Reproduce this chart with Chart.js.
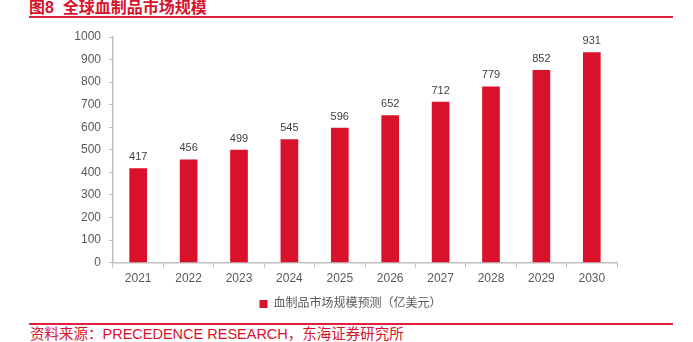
<!DOCTYPE html>
<html>
<head>
<meta charset="utf-8">
<script src="https://cdn.jsdelivr.net/npm/chart.js@4"></script>
<style>
  html, body { margin: 0; padding: 0; background: #fff; }
  body { width: 693px; height: 342px; position: relative; overflow: hidden;
         font-family: "Liberation Sans", "Noto Sans CJK SC", sans-serif; }
  .title { position: absolute; left: 29px; top: -6px; font-size: 16px; font-weight: bold; color: #d9112b; white-space: nowrap; }
  .rule { position: absolute; left: 29px; width: 644px; height: 2px; background: #e0223a; }
  .source { position: absolute; left: 30px; top: 327px; font-size: 14.5px; line-height: 1; color: #d9112b; white-space: nowrap; }
  .wrap { position: absolute; left: 0; top: 0; width: 693px; height: 322px; }
</style>
</head>
<body>
<div class="title">图8&nbsp;&nbsp;全球血制品市场规模</div>
<div class="rule" style="top:16px"></div>
<div class="wrap"><canvas id="chart"></canvas></div>
<div class="rule" style="top:323px"></div>
<div class="source">资料来源：PRECEDENCE RESEARCH，东海证券研究所</div>
<script>
// Data
const years = ['2021', '2022', '2023', '2024', '2025', '2026', '2027', '2028', '2029', '2030'];
const marketSize = [417, 456, 499, 545, 596, 652, 712, 779, 852, 931];
const seriesName = '血制品市场规模预测（亿美元）';

const barRed = '#d9112b';
const axisGray = '#bfbfbf';
const textGray = '#595959';
const fontFamily = "'Liberation Sans', 'Noto Sans CJK SC', sans-serif";

// value labels on top of each bar
const valueLabels = {
    id: 'valueLabels',
    afterDatasetsDraw(chart) {
        const ctx = chart.ctx;
        const meta = chart.getDatasetMeta(0);
        ctx.save();
        ctx.font = '11px ' + fontFamily;
        ctx.fillStyle = '#404040';
        ctx.textAlign = 'center';
        ctx.textBaseline = 'bottom';
        meta.data.forEach((bar, i) => {
            ctx.fillText(marketSize[i], bar.x, bar.y - 6);
        });
        ctx.restore();
    }
};

// legend sits centred on the page, not on the padded box
const legendShift = {
    id: 'legendShift',
    afterLayout(chart) {
        chart.legend.left += 14;
        chart.legend.right += 14;
    }
};

new Chart(document.getElementById('chart'), {
    type: 'bar',
    data: {
        labels: years,
        datasets: [{
            label: seriesName,
            data: marketSize,
            backgroundColor: barRed,
            borderWidth: 0,
            barThickness: 17
        }]
    },
    options: {
        responsive: true,
        maintainAspectRatio: false,
        animation: false,
        layout: {
            padding: { left: 56, right: 76, top: 37, bottom: 2 }
        },
        plugins: {
            legend: {
                position: 'bottom',
                labels: {
                    font: { size: 12, family: fontFamily },
                    color: textGray,
                    boxWidth: 8,
                    boxHeight: 8,
                    padding: 8
                }
            },
            tooltip: { enabled: false }
        },
        scales: {
            x: {
                grid: {
                    display: true,
                    drawOnChartArea: false,
                    offset: true,
                    tickLength: 5,
                    color: axisGray
                },
                border: { color: axisGray, width: 1.5 },
                ticks: {
                    font: { size: 12, family: fontFamily },
                    color: textGray,
                    padding: 4
                }
            },
            y: {
                min: 0,
                max: 1000,
                afterFit(scale) { scale.width = 57; },
                grid: {
                    display: true,
                    drawOnChartArea: false,
                    tickLength: 4,
                    color: axisGray
                },
                border: { color: axisGray, width: 1.5 },
                ticks: {
                    stepSize: 100,
                    callback: value => String(value),
                    font: { size: 12, family: fontFamily },
                    color: textGray,
                    padding: 8
                }
            }
        }
    },
    plugins: [valueLabels, legendShift]
});
</script>
</body>
</html>
